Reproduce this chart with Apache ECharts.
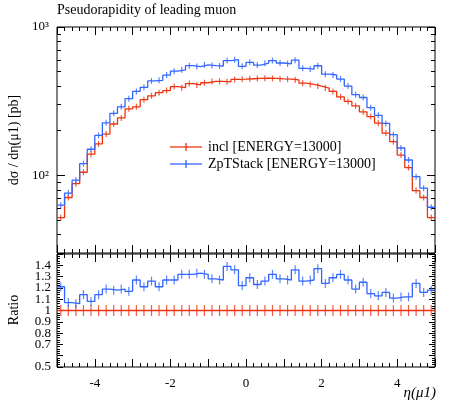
<!DOCTYPE html>
<html>
<head>
<meta charset="utf-8">
<script src="https://cdn.jsdelivr.net/npm/echarts@6/dist/echarts.min.js"></script>
<style>html,body{margin:0;padding:0;background:#fff}#c{width:450px;height:406px}</style>
</head>
<body>
<div id="c"></div>
<script>
// bin edges: 50 bins of 0.2 from -5 to 5
const binLo = -5, binW = 0.2, nBins = 50;
const incl = [52,71,88,105,139,163,190,222,244,281,290,324,344,361,373,397,390,416,407,421,430,430,427,443,445,
  448,450,452,450,447,445,440,418,410,400,388,368,338,315,294,268,249,225,193,169,137,113,79,71,52];
const zpt = [63,76,93,120,150,186,226,262,290,329,368,392,433,437,474,504,515,549,541,556,550,546,594,602,543,
  578,554,570,594,572,565,598,527,521,548,481,475,446,400,350,335,286,254,224,188,153,127,98,82,61];
const ratio = [1.21,1.07,1.06,1.14,1.08,1.14,1.19,1.18,1.19,1.17,1.27,1.21,1.26,1.21,1.27,1.27,1.32,1.32,1.33,1.32,1.28,1.27,1.39,1.36,1.22,
  1.29,1.23,1.26,1.32,1.28,1.27,1.36,1.26,1.27,1.37,1.24,1.29,1.32,1.27,1.19,1.25,1.15,1.13,1.16,1.11,1.12,1.12,1.24,1.16,1.18];
const ratioTicks = [0.5,0.6,0.7,0.8,0.9,1,1.1,1.2,1.3,1.4];

const RED = '#ee3311', BLUE = '#3366ff';
const FONT = 'Liberation Serif';

function steps(vals) {
  const pts = vals.map((v, i) => [binLo + i * binW, v]);
  pts.push([binLo + nBins * binW, vals[vals.length - 1]]);
  return pts;
}
function centers(vals) {
  return vals.map((v, i) => [binLo + (i + 0.5) * binW, v]);
}

const chart = echarts.init(document.getElementById('c'));
const tickStyle = {color: '#000'};
const xCommon = {
  type: 'value', min: -5, max: 5, interval: 1,
  axisLine: {show: false, onZero: false},
  axisTick: {inside: true, length: 8, lineStyle: tickStyle},
  minorTick: {show: true, splitNumber: 5, length: 4, lineStyle: tickStyle},
  splitLine: {show: false}
};
function logY(extra) {
  return Object.assign({gridIndex: 0, type: 'log', logBase: 10, min: 30, max: 1000,
    axisLine: {show: false, onZero: false}, splitLine: {show: false},
    axisTick: {inside: true, length: 8, lineStyle: tickStyle},
    minorTick: {show: true, splitNumber: 9, length: 4, lineStyle: tickStyle}}, extra);
}
function ratioY(extra) {
  return Object.assign({gridIndex: 1, type: 'value', min: 0.5, max: 1.5, interval: 0.1,
    axisLine: {show: false, onZero: false}, splitLine: {show: false},
    axisTick: {inside: true, length: 6, lineStyle: tickStyle},
    minorTick: {show: true, splitNumber: 5, length: 3, lineStyle: tickStyle}}, extra);
}
function lineSeries(vals, color, xi, yi) {
  return {type: 'line', step: 'end', data: steps(vals), xAxisIndex: xi, yAxisIndex: yi,
    symbol: 'none', lineStyle: {color: color, width: 1.3}, animation: false, silent: true};
}
function errSeries(vals, color, xi, yi, h) {
  return {type: 'scatter', data: centers(vals), xAxisIndex: xi, yAxisIndex: yi,
    symbol: 'rect', symbolSize: [1.2, h], itemStyle: {color: color}, animation: false, silent: true};
}

chart.setOption({
  animation: false,
  grid: [
    {left: 57, right: 15, top: 27, height: 226, show: true, borderColor: '#000', borderWidth: 1},
    {left: 57, right: 15, top: 254, height: 113, show: true, borderColor: '#000', borderWidth: 1}
  ],
  xAxis: [
    Object.assign({gridIndex: 0, axisLabel: {show: false}}, xCommon),
    Object.assign({gridIndex: 0, position: 'top', axisLabel: {show: false}}, xCommon),
    Object.assign({gridIndex: 1, axisLabel: {
      fontFamily: FONT, fontSize: 13, color: '#000', margin: 10,
      formatter: v => (Math.round(v) % 2 === 0 ? String(Math.round(v)) : '')
    }}, xCommon),
    Object.assign({gridIndex: 1, position: 'top', axisLabel: {show: false}}, xCommon)
  ],
  yAxis: [
    logY({position: 'left', axisLabel: {fontFamily: FONT, fontSize: 13, color: '#000', margin: 8,
      formatter: v => (Math.abs(v - 100) < 1 ? '10²' : Math.abs(v - 1000) < 1 ? '10³' : '')}}),
    logY({position: 'right', axisLabel: {show: false}}),
    ratioY({position: 'left', axisLabel: {fontFamily: FONT, fontSize: 13, color: '#000', margin: 6,
      showMinLabel: true, showMaxLabel: true, lineHeight: 10,
      formatter: v => (ratioTicks.some(t => Math.abs(t - v) < 1e-6) ? String(Math.round(v * 10) / 10) : '')}}),
    ratioY({position: 'right', axisLabel: {show: false}})
  ],
  series: [
    lineSeries(incl, RED, 0, 0), errSeries(incl, RED, 0, 0, 6),
    lineSeries(zpt, BLUE, 0, 0), errSeries(zpt, BLUE, 0, 0, 6),
    lineSeries(incl.map(() => 1), RED, 2, 2), errSeries(incl.map(() => 1), RED, 2, 2, 11),
    lineSeries(ratio, BLUE, 2, 2), errSeries(ratio, BLUE, 2, 2, 9)
  ],
  graphic: [
    {type: 'text', left: 57, top: 3, style: {text: 'Pseudorapidity of leading muon', font: '14px "Liberation Serif"', fill: '#000'}},
    {type: 'text', x: 14, y: 140, rotation: Math.PI / 2,
      style: {text: 'dσ / dη(μ1) [pb]', font: '14px "Liberation Serif"', fill: '#000', align: 'center', verticalAlign: 'middle'}},
    {type: 'text', x: 14, y: 310, rotation: Math.PI / 2,
      style: {text: 'Ratio', font: '14px "Liberation Serif"', fill: '#000', align: 'center', verticalAlign: 'middle'}},
    {type: 'text', right: 14, top: 386, style: {text: 'η(μ1)', font: 'italic 15px "Liberation Serif"', fill: '#000'}},
    {type: 'line', shape: {x1: 170, y1: 147, x2: 202, y2: 147}, style: {stroke: RED, lineWidth: 1.3}},
    {type: 'line', shape: {x1: 186, y1: 143, x2: 186, y2: 151}, style: {stroke: RED, lineWidth: 1.3}},
    {type: 'text', x: 208, y: 147, style: {text: 'incl [ENERGY=13000]', font: '14px "Liberation Serif"', fill: '#000', verticalAlign: 'middle'}},
    {type: 'line', shape: {x1: 170, y1: 164, x2: 202, y2: 164}, style: {stroke: BLUE, lineWidth: 1.3}},
    {type: 'line', shape: {x1: 186, y1: 160, x2: 186, y2: 168}, style: {stroke: BLUE, lineWidth: 1.3}},
    {type: 'text', x: 208, y: 164, style: {text: 'ZpTStack [ENERGY=13000]', font: '14px "Liberation Serif"', fill: '#000', verticalAlign: 'middle'}}
  ]
});
</script>
</body>
</html>
